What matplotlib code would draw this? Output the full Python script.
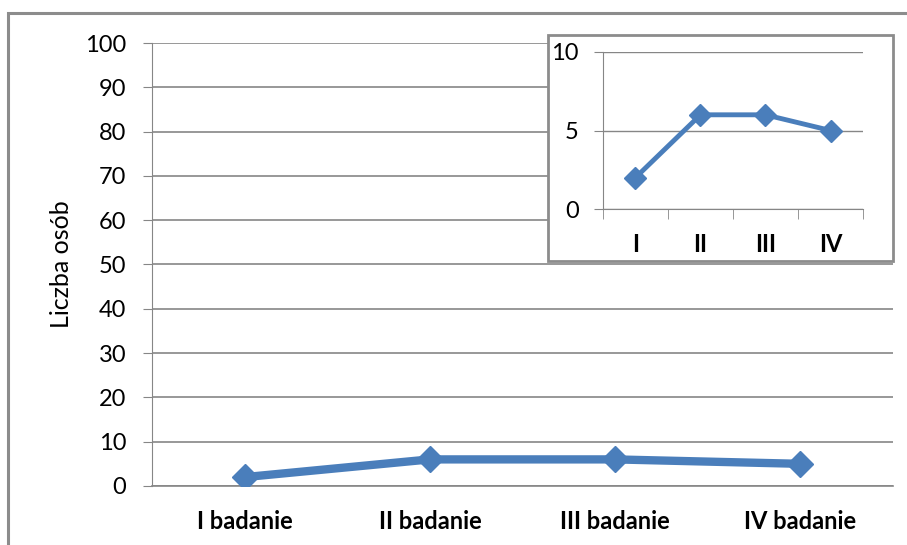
import numpy as np
import matplotlib.pyplot as plt
from matplotlib.patches import Rectangle

# data
categories = ['I badanie', 'II badanie', 'III badanie', 'IV badanie']
short_labels = ['I', 'II', 'III', 'IV']
values = [2, 6, 6, 5]

blue = '#4A7EBB'
grid = '#868686'

plt.rcParams['font.family'] = ['Lato', 'DejaVu Sans']

fig = plt.figure(figsize=(9.07, 5.45), dpi=100)

# outer chart border (cropped at right / bottom)
fig.patches.append(Rectangle((8/907, -0.1), 1.2, 1.1 - 13/545, transform=fig.transFigure,
                             fill=False, edgecolor='#8C8C8C', linewidth=2.2))

x = np.arange(len(categories))

ax = fig.add_axes([0.1676, 0.1083, 0.8170, 0.8128])
ax.plot(x, values, color=blue, linewidth=6, marker='D', markersize=13,
        markeredgecolor=blue, zorder=3)
ax.set_xlim(-0.5, 3.5)
ax.set_ylim(0, 100)
ax.set_yticks(np.arange(0, 101, 10))
ax.set_xticks(x)
ax.set_xticklabels(categories, fontweight='bold', fontsize=17)
ax.tick_params(axis='x', length=0, pad=17)
ax.tick_params(axis='y', length=6.5, color=grid, labelsize=17, pad=12)
ax.grid(axis='y', color=grid, linewidth=1.2)
ax.set_axisbelow(True)
for s in ['top', 'right']:
    ax.spines[s].set_visible(False)
ax.spines['left'].set_color(grid)
ax.spines['bottom'].set_color(grid)
ax.spines['bottom'].set_linewidth(1.2)
ax.set_ylabel('Liczba osób', fontsize=18, labelpad=9)

# inset box
fig.patches.append(Rectangle((548/907, 1 - 261/545), 345/907, 226/545, transform=fig.transFigure,
                             facecolor='white', edgecolor='#8C8C8C', linewidth=2, zorder=5))

ins = fig.add_axes([0.6648, 0.6165, 0.2867, 0.2881], zorder=6)
ins.patch.set_alpha(0)
ins.plot(x, values, color=blue, linewidth=3.5, marker='D', markersize=11,
         markeredgecolor=blue, zorder=3)
ins.set_xlim(-0.5, 3.5)
ins.set_ylim(0, 10)
ins.set_yticks([0, 5, 10])
ins.set_xticks(x)
ins.set_xticklabels(short_labels, fontweight='bold', fontsize=17)
ins.set_xticks(np.arange(-0.5, 4, 1), minor=True)
ins.tick_params(axis='x', which='major', length=0, pad=17)
ins.tick_params(axis='x', which='minor', length=7, color=grid)
ins.tick_params(axis='y', length=6.5, color=grid, labelsize=17, pad=11)
ins.grid(axis='y', color=grid, linewidth=1)
ins.set_axisbelow(True)
for s in ['top', 'right']:
    ins.spines[s].set_visible(False)
ins.spines['left'].set_color(grid)
ins.spines['bottom'].set_color(grid)

fig.savefig('out.png', dpi=100)
